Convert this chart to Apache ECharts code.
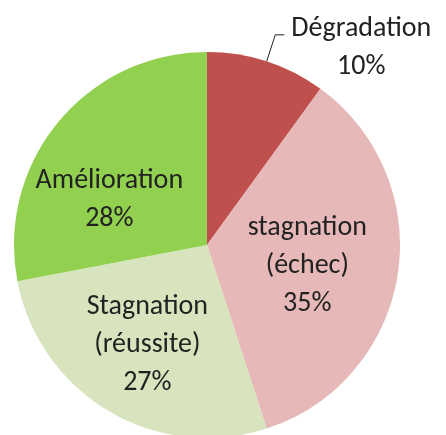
<!DOCTYPE html>
<html>
<head>
<meta charset="utf-8">
<script src="https://cdn.jsdelivr.net/npm/echarts@6/dist/echarts.min.js"></script>
<style>
  html, body { margin: 0; padding: 0; background: #fff; }
  #chart { width: 446px; height: 435px; }
</style>
</head>
<body>
<div id="chart"></div>
<script>
// categories and shares (%), clockwise from 12 o'clock
var categories = ["Dégradation", "stagnation\n(échec)", "Stagnation\n(réussite)", "Amélioration"];
var values = [10, 35, 27, 28];
var colors = ["#C0504D", "#E6B9B8", "#D7E4BD", "#92D050"];
// label nudges for the inside labels
var offsets = [null, [2, 5], [-9, 14], [-21, 18]];

var chart = echarts.init(document.getElementById("chart"));

var font = "Carlito, Lato, sans-serif";

var data = categories.map(function (name, i) {
  var item = {
    name: name,
    value: values[i],
    itemStyle: { color: colors[i] }
  };
  if (i === 0) {
    // outside label with leader line
    item.label = {
      position: "outside",
      formatter: "{t|Dégradation}\n{t|{c}%}",
      padding: [26, 0, 0, 0],
      distanceToLabelLine: 4,
      rich: {
        t: {
          width: 146,
          align: "center",
          fontSize: 28,
          lineHeight: 38,
          fontFamily: font,
          color: "#222"
        }
      }
    };
    item.labelLine = { show: true, length: 28, length2: 9, lineStyle: { color: "#222", width: 1 } };
  } else {
    item.label = {
      position: "inside",
      formatter: "{b}\n{c}%",
      offset: offsets[i]
    };
    item.labelLine = { show: false };
  }
  return item;
});

chart.setOption({
  animation: false,
  series: [
    {
      type: "pie",
      center: [207, 245],
      radius: 193,
      startAngle: 90,
      clockwise: true,
      label: {
        fontSize: 28,
        lineHeight: 38,
        fontFamily: font,
        color: "#222"
      },
      data: data
    }
  ]
});
</script>
</body>
</html>
